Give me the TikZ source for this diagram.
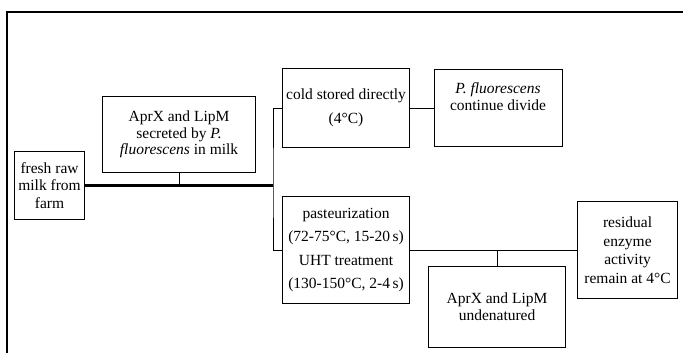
\documentclass[tikz,border=0pt]{standalone}
\usepackage{fontspec}
\setmainfont{Liberation Serif}
\begin{document}
\begin{tikzpicture}[x=1pt,y=-1pt,
  box/.style={draw, line width=1.1pt, inner sep=0pt, anchor=north west, align=center,
    font=\fontsize{15.5}{18}\selectfont},
  txt/.style={inner sep=0pt, align=center, font=\fontsize{15.5}{17}\selectfont},
  link/.style={line width=1pt},
  trunk/.style={line width=2.2pt}]
\useasboundingbox (0,0) rectangle (683,353);
\draw[line width=1.3pt] (7,353) -- (7,12) -- (683,12);

\node[box, minimum width=70pt, minimum height=68pt, font=\fontsize{15.5}{17.5}\selectfont] (fresh) at (14,151) {fresh raw\\milk from\\farm};
\node[box, minimum width=153pt, minimum height=76pt, font=\fontsize{15.5}{16.5}\selectfont] (sec) at (102,96) {AprX and LipM\\secreted by \textit{P.}\\\textit{fluorescens} in milk};
\node[box, minimum width=127pt, minimum height=79pt, font=\fontsize{15.5}{24}\selectfont] (cold) at (282,68) {cold stored directly\\(4°C)};
\node[box, minimum width=128pt, minimum height=77pt] (pfl) at (434,69) {};
\node[txt] (pfltext) at (498,97) {\textit{P. fluorescens}\\continue divide};
\node[box, minimum width=127pt, minimum height=107pt, font=\fontsize{15.5}{23.5}\selectfont] (past) at (282,196) {pasteurization\\(72-75°C, 15-20\,s)\\UHT treatment\\(130-150°C, 2-4\,s)};
\node[box, minimum width=137pt, minimum height=81pt, font=\fontsize{15.5}{17}\selectfont] (und) at (428,266) {AprX and LipM\\undenatured};
\node[box, minimum width=100pt, minimum height=97pt, font=\fontsize{15.5}{18.5}\selectfont] (res) at (577,201) {residual\\enzyme\\activity\\remain at 4°C};

\coordinate (split) at (273,186);
\draw[trunk] (fresh.east) -- (fresh.east -| split);
\draw[link] (sec.south) -- (sec.south |- fresh.east);
\draw[link] (cold.west) -| (split) |- (past.west);
\draw[link] (cold.east) -- (pfl.west);
\draw[link] (past.east) -- (res.west);
\draw[link] (und.north) -- (und.north |- past.east);
\end{tikzpicture}
\end{document}
